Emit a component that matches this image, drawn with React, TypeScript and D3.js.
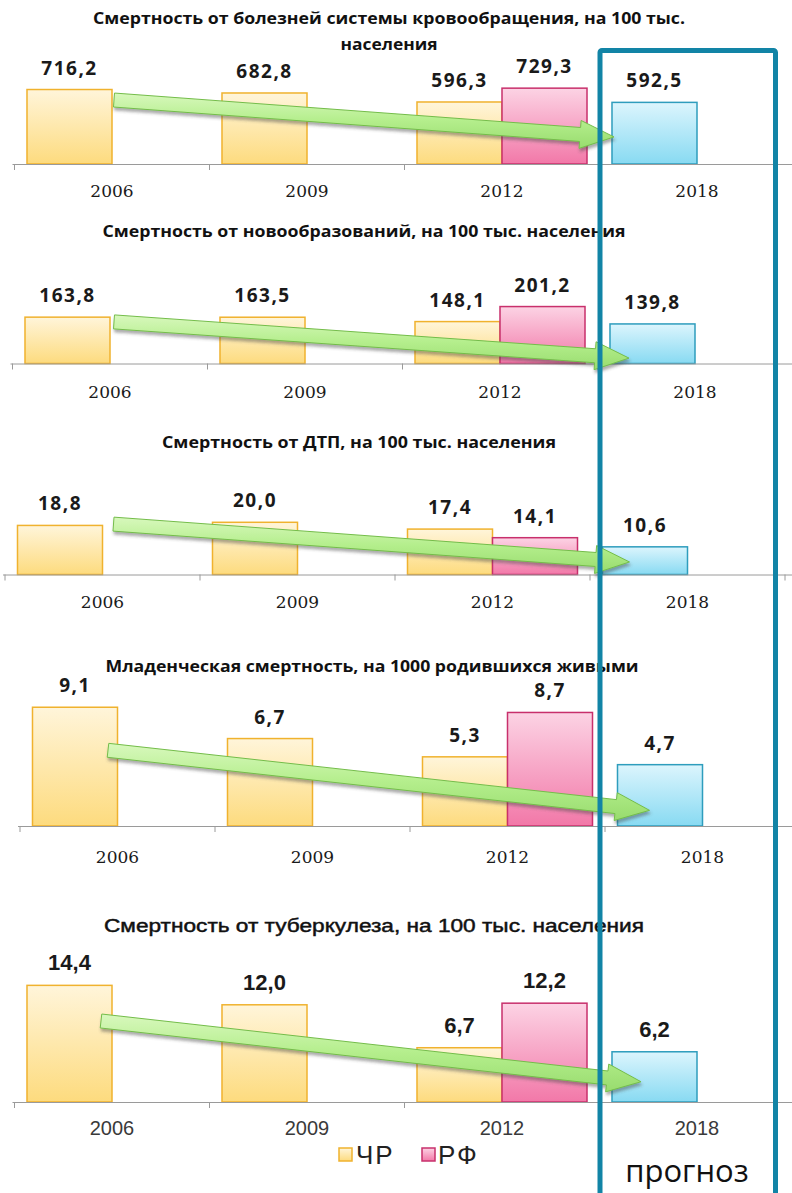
import React from "react";
import * as d3 from "d3";

const YEARS = ["2006", "2009", "2012", "2018"];
const SERIES = ["ЧР", "РФ"];
const FORECAST_LABEL = "прогноз";
const TITLES = [
  ["Смертность от болезней системы кровообращения, на 100 тыс.", "населения"],
  ["Смертность от новообразований, на 100 тыс. населения"],
  ["Смертность от ДТП, на 100 тыс. населения"],
  ["Младенческая смертность, на 1000 родившихся живыми"],
  ["Смертность от туберкулеза, на 100 тыс. населения"],
];
const CR_VALUES = [
  [716.2, 682.8, 596.3],
  [163.8, 163.5, 148.1],
  [18.8, 20.0, 17.4],
  [9.1, 6.7, 5.3],
  [14.4, 12.0, 6.7],
];
const RF_VALUES = [729.3, 201.2, 14.1, 8.7, 12.2];
const FORECAST_VALUES = [592.5, 139.8, 10.6, 4.7, 6.2];
// trend arrow levels (value units): from 2006 to 2018
const TREND_FROM = [615, 147, 19.3, 5.8, 10];
const TREND_TO = [260, 19, 4.8, 1.2, 2.5];

// layout (positions and styles only)
const LAYOUT = [
  { x0: 14.5, base: 164, yMax: 800, pxPer: 0.104, titleX: 389, titleY: [24, 50], titleW: [592, 97], yearY: 197, dxFrom: 2, dxTo: -83, style: "a" },
  { x0: 12.5, base: 363.5, yMax: 250, pxPer: 0.283, titleX: 364, titleY: [237], titleW: [523], yearY: 398, dxFrom: 4, dxTo: -66, style: "a" },
  { x0: 5, base: 574.5, yMax: 25, pxPer: 2.61, titleX: 359, titleY: [448], titleW: [394], yearY: 608, dxFrom: 11, dxTo: -58, style: "a" },
  { x0: 20, base: 826, yMax: 10, pxPer: 13.05, titleX: 372, titleY: [672], titleW: [533], yearY: 863, dxFrom: -9.5, dxTo: -53, style: "a" },
  { x0: 14.5, base: 1102, yMax: 16, pxPer: 8.1, titleX: 374, titleY: [932], titleW: [540], yearY: 1135, dxFrom: -11, dxTo: -56, style: "b" },
];

const BAND = 195;
const fmt = (v: number) => d3.format(".1f")(v).replace(".", ",");

const FILL = { cr: "url(#gCR)", rf: "url(#gRF)", fc: "url(#gFC)" };
const STROKE = { cr: "#f0b22e", rf: "#c8306c", fc: "#2e9dbd" };

function arrowPath(sx: number, sy: number, ex: number, ey: number) {
  const w = 7, h = 14, L = 34;
  const dx = ex - sx, dy = ey - sy;
  const len = Math.hypot(dx, dy);
  const ux = dx / len, uy = dy / len;
  const nx = -uy, ny = ux;
  const bx = ex - ux * L, by = ey - uy * L;
  const pts: [number, number][] = [
    [sx + nx * w, sy + ny * w],
    [bx + nx * w, by + ny * w],
    [bx + nx * h, by + ny * h],
    [ex, ey],
    [bx - nx * h, by - ny * h],
    [bx - nx * w, by - ny * w],
    [sx - nx * w, sy - ny * w],
  ];
  return d3.line()(pts) + "Z";
}

function Panel({ idx }: { idx: number }) {
  const L = LAYOUT[idx];
  const x = d3.scaleBand<string>().domain(YEARS).range([L.x0, L.x0 + BAND * YEARS.length]).paddingInner(0).paddingOuter(0);
  const xs = d3.scaleBand<string>().domain(SERIES).range([0, BAND]).paddingInner(0).paddingOuter(0.147);
  const y = d3.scaleLinear().domain([0, L.yMax]).range([L.base, L.base - L.yMax * L.pxPer]);
  const isA = L.style === "a";

  const bars: { key: string; x: number; v: number; kind: "cr" | "rf" | "fc" }[] = [];
  CR_VALUES[idx].forEach((v, i) => bars.push({ key: "cr" + i, x: (x(YEARS[i]) as number) + (xs("ЧР") as number), v, kind: "cr" }));
  bars.push({ key: "rf", x: (x(YEARS[2]) as number) + (xs("РФ") as number), v: RF_VALUES[idx], kind: "rf" });
  bars.push({ key: "fc", x: (x(YEARS[3]) as number) + (xs("ЧР") as number), v: FORECAST_VALUES[idx], kind: "fc" });
  const bw = xs.bandwidth();

  const sx = (x(YEARS[0]) as number) + BAND / 2 + L.dxFrom;
  const ex = (x(YEARS[3]) as number) + BAND / 2 + L.dxTo;
  const sy = y(TREND_FROM[idx]);
  const ey = y(TREND_TO[idx]);

  const ticks = d3.range(YEARS.length + 1).map((i) => L.x0 + i * BAND);

  return (
    <g>
      {TITLES[idx].map((t, i) => (
        <text
          key={i}
          x={L.titleX}
          y={L.titleY[i]}
          textAnchor="middle"
          textLength={L.titleW[i]}
          lengthAdjust="spacingAndGlyphs"
          fontFamily={isA ? "'Open Sans', sans-serif" : "'Liberation Sans', Arial, sans-serif"}
          fontWeight={isA ? 700 : 400}
          fontSize={isA ? 16 : 18}
          fill="#111"
          stroke={isA ? "none" : "#111"}
          strokeWidth={isA ? 0 : 0.45}
        >
          {t}
        </text>
      ))}
      {bars.map((b) => (
        <rect
          key={b.key}
          x={b.x}
          y={y(b.v)}
          width={bw}
          height={L.base - y(b.v)}
          fill={FILL[b.kind]}
          stroke={STROKE[b.kind]}
          strokeWidth={1.5}
        />
      ))}
      <line x1={L.x0 - 2} x2={792} y1={L.base + 0.5} y2={L.base + 0.5} stroke="#9a9a9a" strokeWidth={1} />
      {ticks.map((t, i) => (
        <line key={i} x1={t} x2={t} y1={L.base} y2={L.base + 6} stroke="#9a9a9a" strokeWidth={1} />
      ))}
      <path d={arrowPath(sx, sy, ex, ey)} fill="url(#gArrow)" stroke="#74bd4a" strokeWidth={1} filter="url(#shadow)" />
      {bars.map((b) => (
        <text
          key={"l" + b.key}
          x={b.x + bw / 2}
          y={y(b.v) - 15}
          textAnchor="middle"
          fontFamily={isA ? "'Open Sans', sans-serif" : "'Liberation Sans', Arial, sans-serif"}
          fontWeight={700}
          fontSize={isA ? 19 : 22}
          letterSpacing={isA ? 1.5 : 0}
          fill="#1a1a1a"
        >
          {fmt(b.v)}
        </text>
      ))}
      {YEARS.map((yr) => (
        <text
          key={yr}
          x={(x(yr) as number) + BAND / 2}
          y={L.yearY}
          textAnchor="middle"
          fontFamily={isA ? "'DejaVu Serif', serif" : "'Liberation Sans', Arial, sans-serif"}
          fontSize={isA ? 17 : 20}
          fill={isA ? "#1a1a1a" : "#3a3a3a"}
        >
          {yr}
        </text>
      ))}
    </g>
  );
}

export default function App() {
  return (
    <svg
      width={792}
      height={1193}
      style={{ position: "absolute", left: 0, top: 0, background: "#fff" }}
    >
      <defs>
        <linearGradient id="gCR" x1="0" y1="0" x2="0" y2="1">
          <stop offset="0" stopColor="#fff5da" />
          <stop offset="1" stopColor="#fddb7e" />
        </linearGradient>
        <linearGradient id="gRF" x1="0" y1="0" x2="0" y2="1">
          <stop offset="0" stopColor="#fcd3e4" />
          <stop offset="1" stopColor="#f278a8" />
        </linearGradient>
        <linearGradient id="gFC" x1="0" y1="0" x2="0" y2="1">
          <stop offset="0" stopColor="#dcf5fd" />
          <stop offset="1" stopColor="#88daf2" />
        </linearGradient>
        <linearGradient id="gArrow" x1="0" y1="0" x2="0" y2="1">
          <stop offset="0" stopColor="#d8f8bd" />
          <stop offset="0.5" stopColor="#b4ee8c" />
          <stop offset="1" stopColor="#98dc6e" />
        </linearGradient>
        <filter id="shadow" x="-10%" y="-50%" width="120%" height="200%">
          <feDropShadow dx="1" dy="3" stdDeviation="1.5" floodColor="#444" floodOpacity="0.45" />
        </filter>
      </defs>
      {LAYOUT.map((_, i) => (
        <Panel key={i} idx={i} />
      ))}
      {/* legend */}
      <g fontFamily="'Liberation Sans', Arial, sans-serif" fontSize={26} fill="#222">
        <rect x={339} y={1148} width={13} height={13} fill="url(#gCR)" stroke={STROKE.cr} strokeWidth={1.5} />
        <text x={356} y={1164} letterSpacing={2}>{SERIES[0]}</text>
        <rect x={422} y={1148} width={13} height={13} fill="url(#gRF)" stroke={STROKE.rf} strokeWidth={1.5} />
        <text x={438} y={1164} letterSpacing={2}>{SERIES[1]}</text>
      </g>
      {/* forecast frame */}
      <rect x={600} y={50.5} width={175.5} height={1200} rx={2} fill="none" stroke="#1284a6" strokeWidth={5} />
      <text x={687} y={1182} textAnchor="middle" fontFamily="'Open Sans', sans-serif" fontSize={31} fill="#111">
        {FORECAST_LABEL}
      </text>
    </svg>
  );
}
